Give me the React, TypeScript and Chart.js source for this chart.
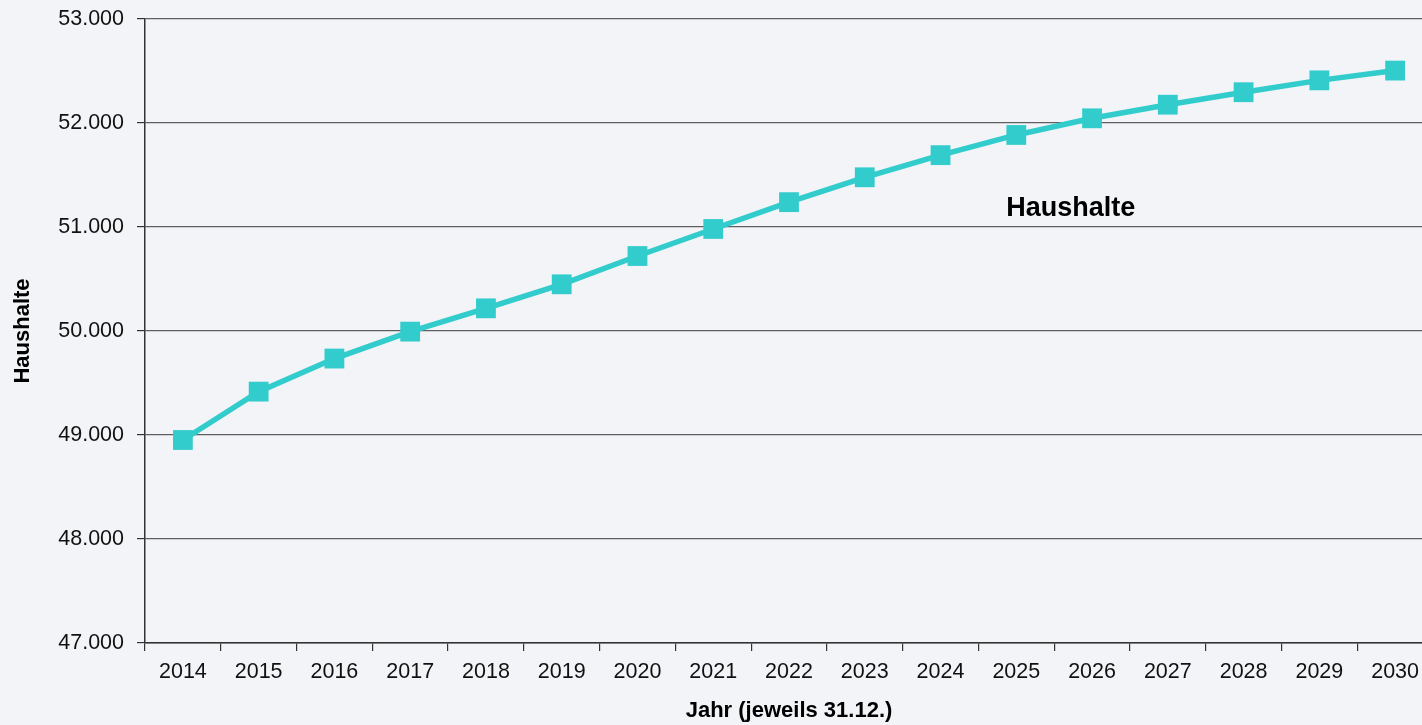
import React, { useEffect, useRef } from "react";
import { Chart, registerables } from "chart.js";

Chart.register(...registerables);

const years: string[] = [
  "2014", "2015", "2016", "2017", "2018", "2019", "2020", "2021", "2022",
  "2023", "2024", "2025", "2026", "2027", "2028", "2029", "2030",
];

const haushalte: number[] = [
  48952, 49417, 49735, 49994, 50218, 50449, 50721, 50981, 51239,
  51478, 51691, 51885, 52045, 52176, 52296, 52410, 52504,
];

const yMin = 47000;
const yMax = 53000;
const yStep = 1000;

const seriesLabel = "Haushalte";
const yTitle = "Haushalte";
const xTitle = "Jahr (jeweils 31.12.)";

// annotation anchor in data space (category index, value)
const labelAnchor = { index: 11.72, value: 51180 };

const FONT = "'Liberation Sans', Arial, Helvetica, sans-serif";
const LINE_COLOR = "#33cccc";
const BG = "#f2f4f8";

const fmt = (v: number) =>
  String(Math.round(v)).replace(/\B(?=(\d{3})+(?!\d))/g, ".");

const seriesLabelPlugin = {
  id: "seriesLabel",
  afterDatasetsDraw(chart: any) {
    const { ctx, scales } = chart;
    const x = scales.x.getPixelForValue(labelAnchor.index);
    const y = scales.y.getPixelForValue(labelAnchor.value);
    ctx.save();
    ctx.font = `bold 27px ${FONT}`;
    ctx.fillStyle = "#000";
    ctx.textAlign = "center";
    ctx.textBaseline = "middle";
    ctx.fillText(seriesLabel, x, y);
    ctx.restore();
  },
};

export default function App() {
  const ref = useRef<HTMLCanvasElement | null>(null);

  useEffect(() => {
    if (!ref.current) return;
    const chart = new Chart(ref.current, {
      type: "line",
      data: {
        labels: years,
        datasets: [
          {
            label: seriesLabel,
            data: haushalte,
            borderColor: LINE_COLOR,
            backgroundColor: LINE_COLOR,
            borderWidth: 5.5,
            pointStyle: "rect",
            pointRadius: 14,
            pointBorderWidth: 0,
            pointBackgroundColor: LINE_COLOR,
            pointBorderColor: LINE_COLOR,
            tension: 0,
          },
        ],
      },
      options: {
        responsive: false,
        animation: false,
        devicePixelRatio: 1,
        layout: { padding: { top: 19, right: 1, left: 0, bottom: 0 } },
        plugins: {
          legend: { display: false },
          tooltip: { enabled: false },
        },
        scales: {
          x: {
            type: "category",
            offset: true,
            grid: {
              offset: true,
              drawOnChartArea: false,
              drawTicks: true,
              tickLength: 8,
              tickColor: "#333",
              lineWidth: 1.2,
            },
            border: { display: true, color: "#333", width: 1.5 },
            ticks: {
              color: "#111",
              font: { family: FONT, size: 21.5 },
              padding: 8,
              maxRotation: 0,
              autoSkip: false,
            },
            title: {
              display: true,
              text: xTitle,
              color: "#000",
              font: { family: FONT, size: 22, weight: "bold" },
              padding: 1,
            },
            afterFit(scale: any) {
              scale.height = 82;
              scale.paddingLeft = 0;
              scale.paddingRight = 0;
            },
          },
          y: {
            min: yMin,
            max: yMax,
            grid: {
              color: "#5f5f5f",
              lineWidth: 1.2,
              drawTicks: true,
              tickLength: 8,
              tickColor: "#333",
            },
            border: { display: true, color: "#333", width: 1.5 },
            ticks: {
              stepSize: yStep,
              color: "#111",
              font: { family: FONT, size: 21.5 },
              padding: 13,
              callback: (v: any) => fmt(Number(v)),
            },
            title: {
              display: true,
              text: yTitle,
              color: "#000",
              font: { family: FONT, size: 22, weight: "bold" },
              padding: 10,
            },
            afterFit(scale: any) {
              scale.width = 145;
              scale.paddingTop = 0;
              scale.paddingBottom = 0;
            },
          },
        },
      },
      plugins: [seriesLabelPlugin],
    } as any);
    return () => chart.destroy();
  }, []);

  return (
    <div
      style={{
        position: "fixed",
        left: 0,
        top: 0,
        width: 1422,
        height: 725,
        overflow: "hidden",
        background: BG,
      }}
    >
      <canvas
        ref={ref}
        width={1447}
        height={725}
        style={{ width: 1447, height: 725, display: "block" }}
      />
    </div>
  );
}
